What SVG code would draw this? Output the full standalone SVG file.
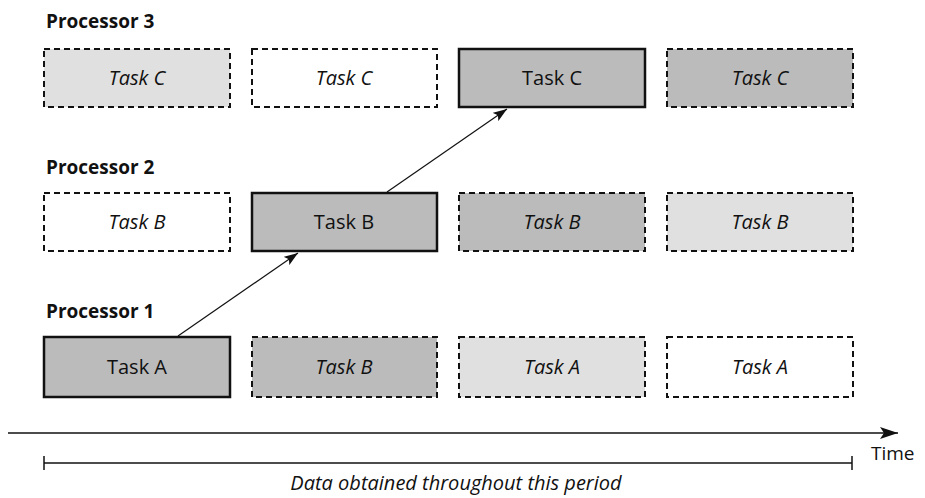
<svg xmlns="http://www.w3.org/2000/svg" width="925" height="498" viewBox="0 0 925 498">
<style>
  .box { stroke: #111; }
  .solid { stroke-width: 2.5; }
  .dash { stroke-width: 2; stroke-dasharray: 6 4; }
  .dark { fill: #bbbbbb; }
  .light { fill: #e0e0e0; }
  .white { fill: #ffffff; }
  .t { font-family: "Open Sans", "Liberation Sans", sans-serif; font-size: 20px; fill: #111; text-anchor: middle; }
  .it { font-style: italic; }
  .lbl { font-family: "Open Sans", "Liberation Sans", sans-serif; font-size: 19px; font-weight: bold; fill: #111; }
  .ax { stroke: #111; stroke-width: 1.5; fill: none; }
  .conn { stroke: #111; stroke-width: 1.2; fill: none; }
</style>
<defs>
  <marker id="ah" viewBox="0 0 14 10" refX="14" refY="5" markerWidth="14" markerHeight="10" markerUnits="userSpaceOnUse" orient="auto">
    <path d="M0,0 L14,5 L0,10 L3,5 Z" fill="#111"/>
  </marker>
  <marker id="ahT" viewBox="0 0 18 12" refX="18" refY="6" markerWidth="18" markerHeight="12" markerUnits="userSpaceOnUse" orient="auto">
    <path d="M0,0 L18,6 L0,12 L4,6 Z" fill="#111"/>
  </marker>
</defs>
<rect width="925" height="498" fill="#ffffff"/>

<text class="lbl" x="46" y="28">Processor 3</text>
<text class="lbl" x="46" y="174">Processor 2</text>
<text class="lbl" x="46" y="318">Processor 1</text>

<g id="p3c1"><rect class="box dash light" x="44" y="49" width="186" height="58"/><text class="t it" x="137" y="85">Task C</text></g>
<g id="p3c2"><rect class="box dash white" x="252" y="49" width="185" height="58"/><text class="t it" x="344" y="85">Task C</text></g>
<g id="p3c3"><rect class="box solid dark" x="459" y="49" width="186" height="58"/><text class="t" x="552" y="85">Task C</text></g>
<g id="p3c4"><rect class="box dash dark" x="667" y="49" width="186" height="58"/><text class="t it" x="760" y="85">Task C</text></g>

<g id="p2c1"><rect class="box dash white" x="44" y="193" width="186" height="58"/><text class="t it" x="137" y="229">Task B</text></g>
<g id="p2c2"><rect class="box solid dark" x="252" y="193" width="185" height="58"/><text class="t" x="344" y="229">Task B</text></g>
<g id="p2c3"><rect class="box dash dark" x="459" y="193" width="186" height="58"/><text class="t it" x="552" y="229">Task B</text></g>
<g id="p2c4"><rect class="box dash light" x="667" y="193" width="186" height="58"/><text class="t it" x="760" y="229">Task B</text></g>

<g id="p1c1"><rect class="box solid dark" x="44" y="337" width="186" height="60"/><text class="t" x="137" y="374">Task A</text></g>
<g id="p1c2"><rect class="box dash dark" x="252" y="337" width="185" height="60"/><text class="t it" x="344" y="374">Task B</text></g>
<g id="p1c3"><rect class="box dash light" x="459" y="337" width="186" height="60"/><text class="t it" x="552" y="374">Task A</text></g>
<g id="p1c4"><rect class="box dash white" x="667" y="337" width="186" height="60"/><text class="t it" x="760" y="374">Task A</text></g>

<g id="connectors">
  <line class="conn" x1="178" y1="336" x2="298" y2="253" marker-end="url(#ah)"/>
  <line class="conn" x1="387" y1="192" x2="507" y2="109" marker-end="url(#ah)"/>
</g>

<g id="timeline">
  <line class="ax" x1="8" y1="433" x2="898" y2="433" marker-end="url(#ahT)"/>
  <text x="871" y="460" font-family="Open Sans, Liberation Sans, sans-serif" font-size="19" fill="#111">Time</text>
  <line class="ax" x1="44" y1="463" x2="852" y2="463"/>
  <line class="ax" x1="44" y1="456" x2="44" y2="470"/>
  <line class="ax" x1="852" y1="456" x2="852" y2="470"/>
  <text class="t it" x="456" y="490">Data obtained throughout this period</text>
</g>
</svg>
